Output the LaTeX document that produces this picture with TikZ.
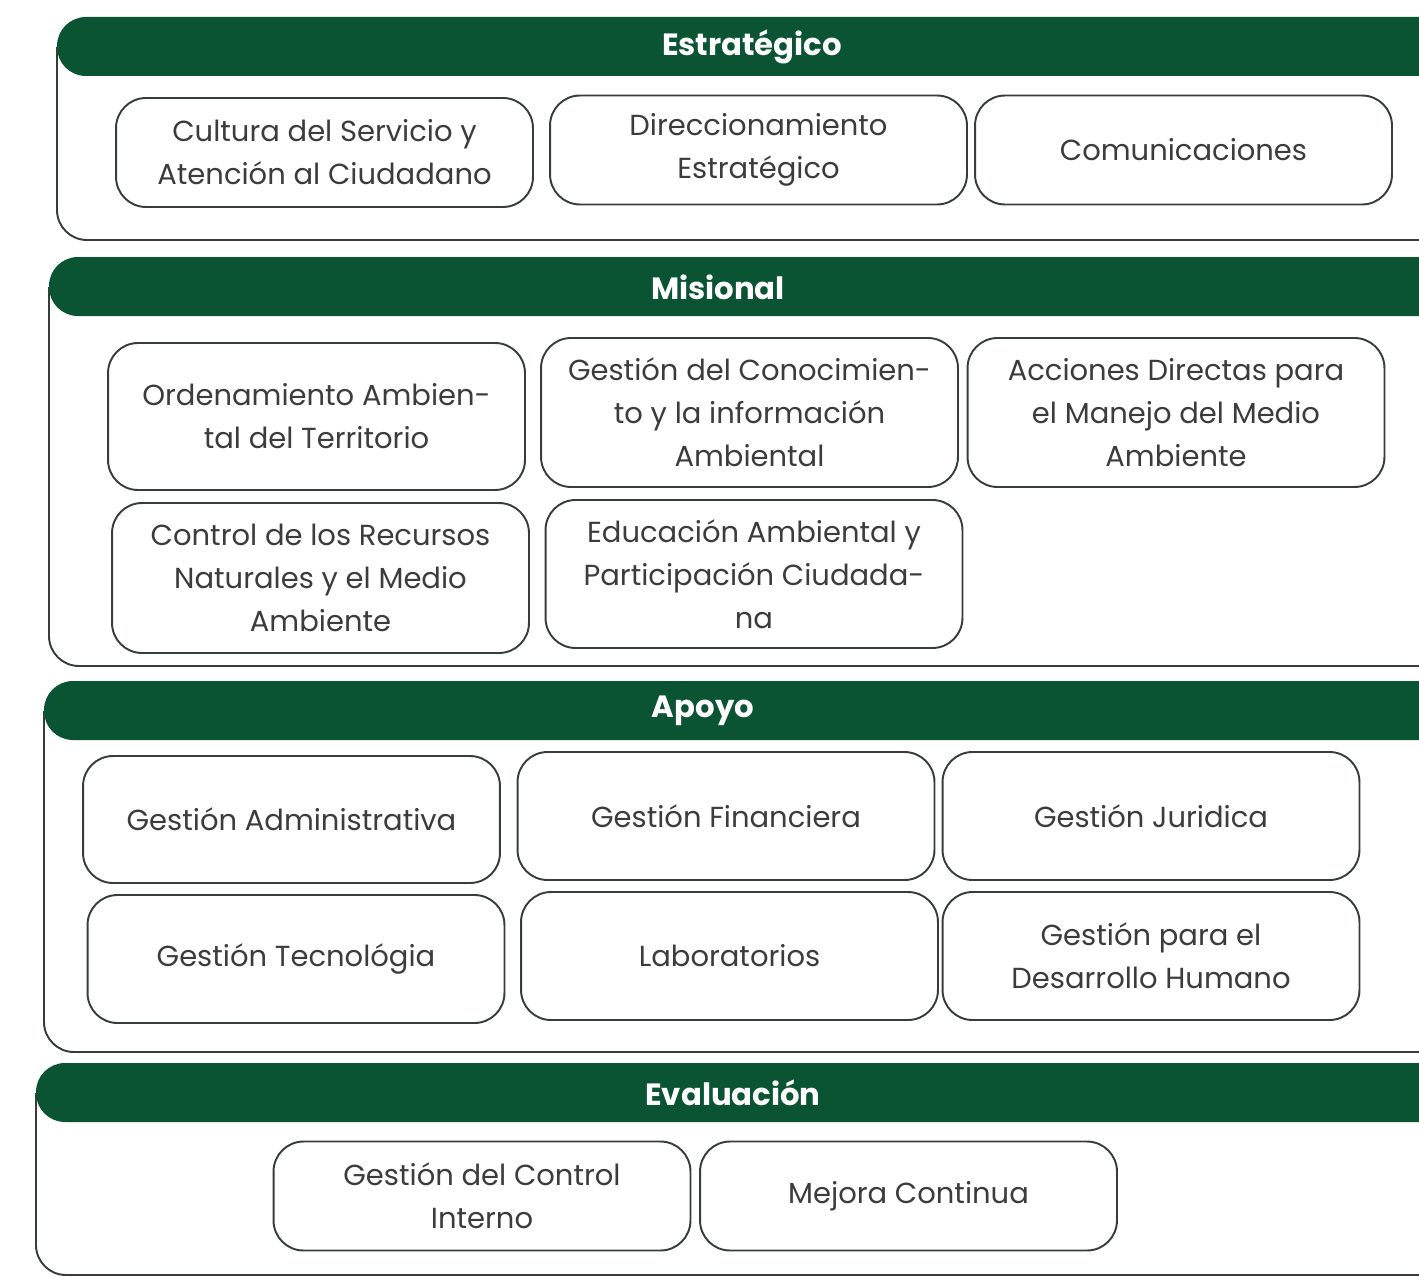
\documentclass[tikz,border=0pt]{standalone}
\usepackage{fontspec}
\setmainfont{Poppins}
\usetikzlibrary{backgrounds}
\definecolor{hdrgreen}{RGB}{10,84,52}
\definecolor{lineclr}{RGB}{55,62,58}
\definecolor{txtclr}{RGB}{60,60,60}

\begin{document}
\begin{tikzpicture}[x=0.02cm, y=-0.02cm,
  box/.style={draw=lineclr, line width=1.1pt, rounded corners=0.6cm, align=center,
              font=\fontsize{16.5}{24.5}\selectfont, text=txtclr,
              minimum width=8.34cm, minimum height=#1},
  box/.default=2.18cm,
  hdr/.style={fill=hdrgreen, rounded corners=0.58cm},
  ttl/.style={text=white, font=\fontsize{17.5}{20}\selectfont\bfseries},
  panel/.style={draw=lineclr, line width=1.1pt}]
  \clip (0,0) rectangle (1419,1277);
  % panel 1: Estrategico
  \draw[panel] (57,47) [rounded corners=0.6cm] -- (57,240) -- (1440,240);
  \fill[hdr] (57,17) rectangle (1460,76);
  \node[ttl] (estr) at (752,47) {Estratégico};
  \node[box]        (cultura) at (324.5,152.5) {Cultura del Servicio y\\Atención al Ciudadano};
  \node[box]        (direcc)  at (758.5,150)   {Direccionamiento\\Estratégico};
  \node[box]        (comun)   at (1183.5,150)  {Comunicaciones};
  % panel 2: Misional
  \draw[panel] (49,287) [rounded corners=0.6cm] -- (49,666) -- (1440,666);
  \fill[hdr] (49,257) rectangle (1460,316);
  \node[ttl] (misi) at (718,287) {Misional};
  \node[box=2.94cm] (orden)   at (316.5,416.5) {Ordenamiento Ambien-\\tal del Territorio};
  \node[box=2.98cm] (conoc)   at (749.5,412.5) {Gestión del Conocimien-\\to y la información\\Ambiental};
  \node[box=2.98cm] (acc)     at (1176,412.5)  {Acciones Directas para\\el Manejo del Medio\\Ambiente};
  \node[box=3cm]    (control) at (320.5,578)   {Control de los Recursos\\Naturales y el Medio\\Ambiente};
  \node[box=2.96cm] (educ)    at (754,574)     {Educación Ambiental y\\Participación Ciudada-\\na};
  % panel 3: Apoyo
  \draw[panel] (44,711) [rounded corners=0.6cm] -- (44,1052) -- (1440,1052);
  \fill[hdr] (44,681) rectangle (1460,740);
  \node[ttl] (apoyo) at (703,711) {Apoyo};
  \node[box=2.54cm] (admin)   at (291.5,819.5) {Gestión Administrativa};
  \node[box=2.56cm] (finan)   at (726,816)     {Gestión Financiera};
  \node[box=2.56cm] (jurid)   at (1151,816)    {Gestión Juridica};
  \node[box=2.56cm] (tecno)   at (296,959)     {Gestión Tecnológia};
  \node[box=2.56cm] (labor)   at (729.5,956)   {Laboratorios};
  \node[box=2.56cm] (desarr)  at (1151,956)    {Gestión para el\\Desarrollo Humano};
  % panel 4: Evaluacion
  \draw[panel] (36,1093) [rounded corners=0.6cm] -- (36,1275) -- (1440,1275);
  \fill[hdr] (36,1063) rectangle (1460,1122);
  \node[ttl] (evalu) at (733,1093) {Evaluación};
  \node[box]        (interno) at (482,1196)    {Gestión del Control\\Interno};
  \node[box]        (mejora)  at (908.5,1196)  {Mejora Continua};
\end{tikzpicture}
\end{document}
